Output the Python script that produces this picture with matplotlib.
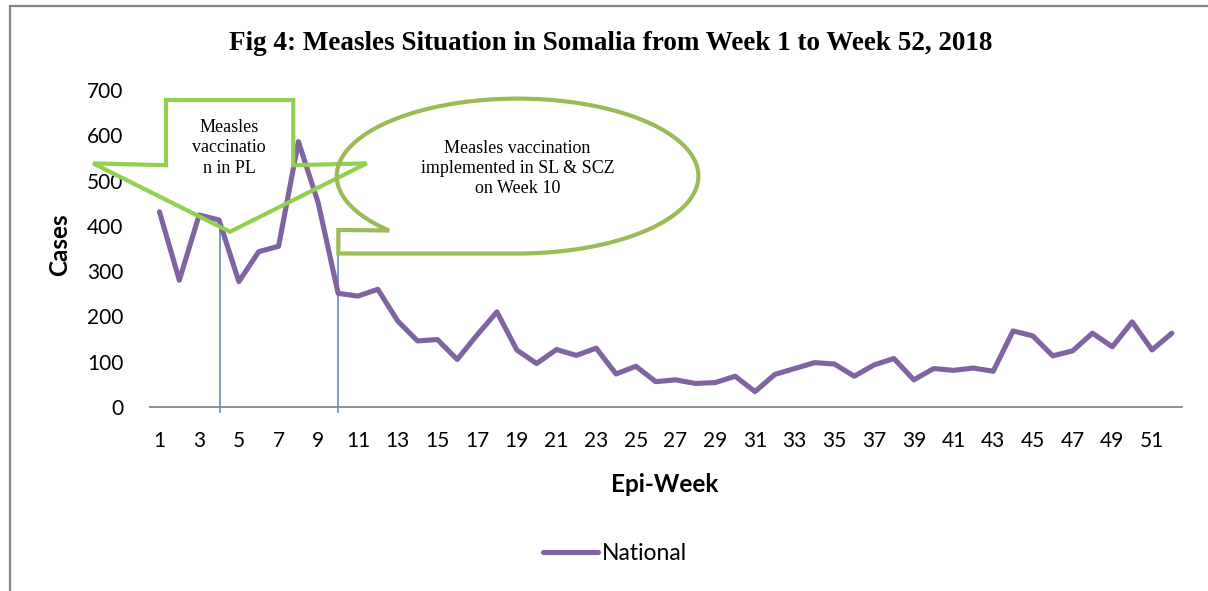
import numpy as np
import matplotlib.pyplot as plt
from matplotlib.patches import Polygon, Rectangle

# weekly national measles cases, 2018
weeks = np.arange(1, 53)
cases = [431, 280, 424, 413, 277, 343, 355, 586, 450, 251,
         245, 260, 190, 146, 149, 105, 159, 210, 126, 96,
         127, 114, 130, 73, 90, 56, 60, 52, 54, 68,
         34, 72, 85, 98, 95, 68, 93, 107, 60, 85,
         81, 86, 79, 168, 157, 113, 124, 163, 133, 188,
         126, 163]
tick_weeks = list(range(1, 52, 2))
y_ticks = [0, 100, 200, 300, 400, 500, 600, 700]

# annotation marker lines (week, top)
pl_week, pl_top = 4.04, 398
sl_week, sl_top = 10.01, 391

purple = '#8064A2'
grey = '#868686'
sans = ['Lato', 'DejaVu Sans']
serif = ['Liberation Serif', 'DejaVu Serif']

fig = plt.figure(figsize=(12.08, 5.91), dpi=100)
ax = fig.add_axes([0.1238, 0.3113, 0.8545, 0.5364])

ax.plot(weeks, cases, color=purple, lw=3.7, solid_joinstyle='round',
        solid_capstyle='round', label='National', zorder=3)

ax.set_xlim(0.5, 52.5)
ax.set_ylim(0, 700)
ax.set_xticks(tick_weeks)
ax.set_xticklabels([str(w) for w in tick_weeks], fontfamily=sans, fontsize=15)
ax.set_yticks(y_ticks)
ax.set_yticklabels([str(v) for v in y_ticks], fontfamily=sans, fontsize=15)
ax.tick_params(axis='x', length=0, pad=17)
ax.tick_params(axis='y', length=0, pad=19)
for s in ['top', 'right', 'left']:
    ax.spines[s].set_visible(False)
ax.spines['bottom'].set_color(grey)
ax.spines['bottom'].set_linewidth(1.3)

# blue marker lines
ax.plot([pl_week, pl_week], [-10, pl_top], color='#4F81BD', lw=1.1, clip_on=False, zorder=2)
ax.plot([sl_week, sl_week], [-10, sl_top], color='#4F81BD', lw=1.1, clip_on=False, zorder=2)

# down arrow callout: vaccination in PL
arrow_x = [1.33, 7.74, 7.74, 11.44, 4.55, -2.34, 1.33]
arrow_y = [678, 678, 534, 538, 387, 538, 534]
ax.add_patch(Polygon(np.column_stack([arrow_x, arrow_y]), closed=True, fill=False,
                     edgecolor='#92D050', lw=3, clip_on=False, zorder=4,
                     joinstyle='miter'))
ax.text(4.5, 572, 'Measles\nvaccinatio\nn in PL', ha='center', va='center',
        fontfamily=serif, fontsize=13, linespacing=1.25, zorder=5)

# ellipse callout: SL & SCZ
cx, cy, ew, eh = 19.04, 510, 18.22, 342
t = np.radians(np.linspace(-90, 224.7, 200))
ell_x = np.concatenate([[sl_week, sl_week], cx + ew / 2 * np.cos(t)])
ell_y = np.concatenate([[sl_top, 339], cy + eh / 2 * np.sin(t)])
ax.add_patch(Polygon(np.column_stack([ell_x, ell_y]), closed=True, fill=False,
                     edgecolor='#9BBB59', lw=3, clip_on=False, zorder=4,
                     joinstyle='miter'))
ax.text(cx, 527, 'Measles vaccination\nimplemented in SL & SCZ\non Week 10',
        ha='center', va='center', fontfamily=serif, fontsize=13,
        linespacing=1.25, zorder=5)

fig.text(611 / 1208, 1 - 44 / 591,
         'Fig 4: Measles Situation in Somalia from Week 1 to Week 52, 2018',
         ha='center', va='center', fontfamily=serif, fontweight='bold', fontsize=19.5)
fig.text(60 / 1208, 1 - 245 / 591, 'Cases', rotation=90, ha='center', va='center',
         fontfamily=sans, fontweight='bold', fontsize=17.5)
fig.text(665 / 1208, 1 - 485 / 591, 'Epi-Week', ha='center', va='center',
         fontfamily=sans, fontweight='bold', fontsize=17.5)

leg = ax.legend(loc='center', bbox_to_anchor=(615 / 1208, 1 - 554 / 591),
                bbox_transform=fig.transFigure, frameon=False,
                prop={'family': sans, 'size': 16.5}, handlelength=2.4,
                handletextpad=0.2)

# chart border
fig.patches.append(Rectangle((10 / 1208, -0.1), 1.2, 1.1 - 6.5 / 591,
                             transform=fig.transFigure, fill=False,
                             edgecolor=grey, lw=1.6))

fig.savefig('out.png', dpi=100)
